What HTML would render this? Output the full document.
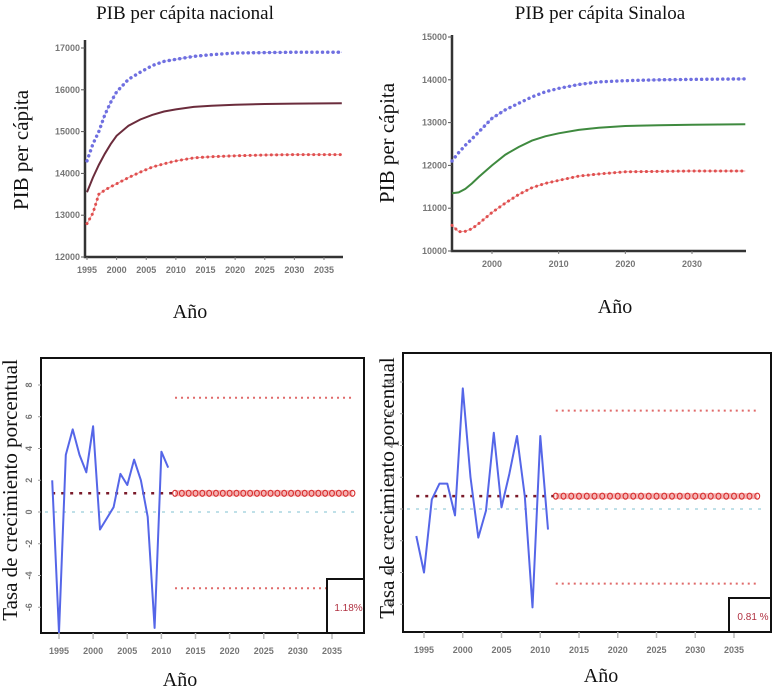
<!DOCTYPE html>
<html><head><meta charset="utf-8">
<style>
html,body{margin:0;padding:0;background:#fff;}
svg{display:block;}
.ttl{font-family:"Liberation Serif",serif;fill:#111;}
.tk{font-family:"Liberation Sans",sans-serif;fill:#777;font-size:9px;font-weight:bold;}
</style></head>
<body>
<svg id="c" width="778" height="690" viewBox="0 0 778 690" xmlns="http://www.w3.org/2000/svg">
<text class="ttl" x="185" y="19" font-size="19" text-anchor="middle">PIB per cápita nacional</text>
<text class="ttl" x="600" y="19" font-size="19" text-anchor="middle">PIB per cápita Sinaloa</text>
<text class="ttl" x="28" y="150" font-size="21" text-anchor="middle" transform="rotate(-90 28 150)">PIB per cápita</text>
<text class="ttl" x="394" y="143" font-size="21" text-anchor="middle" transform="rotate(-90 394 143)">PIB per cápita</text>
<text class="ttl" x="190" y="318" font-size="20" text-anchor="middle">Año</text>
<text class="ttl" x="615" y="313" font-size="20" text-anchor="middle">Año</text>
<text class="ttl" x="17" y="490" font-size="21" text-anchor="middle" transform="rotate(-90 17 490)">Tasa de crecimiento porcentual</text>
<text class="ttl" x="394" y="488" font-size="21" text-anchor="middle" transform="rotate(-90 394 488)">Tasa de crecimiento porcentual</text>
<text class="ttl" x="180" y="686" font-size="20" text-anchor="middle">Año</text>
<text class="ttl" x="601" y="682" font-size="20" text-anchor="middle">Año</text>
</svg>
<script>
const NS="http://www.w3.org/2000/svg";
const svg=document.getElementById('c');
// ---- Data: PIB per cápita nacional ----
const natYears=[1995,1996,1997,1998,1999,2000,2002,2004,2006,2008,2010,2013,2016,2020,2025,2030,2038];
const natMid=[13550,13900,14200,14470,14700,14900,15140,15290,15400,15480,15530,15590,15620,15640,15660,15670,15680];
const natUp=[14300,14700,15000,15400,15700,15950,16250,16420,16580,16680,16730,16800,16840,16880,16890,16900,16900];
const natLow=[12800,13050,13500,13600,13680,13750,13900,14030,14150,14230,14300,14370,14400,14420,14440,14450,14450];
const natYTicks=[12000,13000,14000,15000,16000,17000];
const natXTicks=[1995,2000,2005,2010,2015,2020,2025,2030,2035];
// ---- Data: PIB per cápita Sinaloa ----
const sinYears=[1994,1995,1996,1997,1998,2000,2002,2004,2006,2008,2010,2013,2016,2020,2025,2030,2038];
const sinMid=[11350,11370,11450,11580,11730,12000,12250,12430,12580,12680,12750,12830,12880,12920,12940,12950,12960];
const sinUp=[12100,12300,12470,12620,12780,13100,13300,13450,13600,13720,13800,13890,13950,13980,14000,14010,14020];
const sinLow=[10600,10450,10460,10520,10640,10900,11120,11320,11480,11580,11650,11750,11800,11850,11860,11870,11870];
const sinYTicks=[10000,11000,12000,13000,14000,15000];
const sinXTicks=[2000,2010,2020,2030];
// ---- Data: growth rates ----
const grYears=[1994,1995,1996,1997,1998,1999,2000,2001,2002,2003,2004,2005,2006,2007,2008,2009,2010,2011];
const grNat=[2,-7.6,3.6,5.2,3.6,2.5,5.4,-1.1,-0.4,0.3,2.4,1.7,3.3,2,-0.3,-7.3,3.8,2.8];
const grSin=[-1.7,-4,0.6,1.6,1.6,-0.4,7.6,2,-1.8,-0.1,4.8,0.1,2.2,4.6,0.8,-6.2,4.6,-1.3];
const natStats=[1.18,7.2,-4.8]; // mean, upper, lower
const sinStats=[0.81,6.2,-4.7];
const grYTicks=[-6,-4,-2,0,2,4,6,8];
const grXTicks=[1995,2000,2005,2010,2015,2020,2025,2030,2035];
const natLabel='1.18%';
const sinLabel='0.81 %';

function mk(tag,attrs,parent){const e=document.createElementNS(NS,tag);for(const k in attrs)e.setAttribute(k,attrs[k]);(parent||svg).appendChild(e);return e;}
function lin(d0,d1,r0,r1){return v=>r0+(v-d0)*(r1-r0)/(d1-d0);}
function pathD(xs,ys,fx,fy){return xs.map((x,i)=>(i?'L':'M')+fx(x).toFixed(1)+','+fy(ys[i]).toFixed(1)).join('');}

function pibChart(name,x0,x1,y0,y1,fx,fy,years,mid,up,low,midColor,yt,xt){
  const g=mk('g',{});
  
  
  const ax=mk('path',{d:`M${x0},${y1}L${x0},${y0}L${x1},${y0}`,fill:'none',stroke:'#333','stroke-width':2.5},g);
  
  
  yt.forEach(v=>{const y=fy(v);
    mk('line',{x1:x0-4,x2:x0,y1:y,y2:y,stroke:'#555'},g);
    const t=mk('text',{x:x0-5,y:y+3,'text-anchor':'end',class:'tk'},g);t.textContent=v;
    
    });
  xt.forEach(v=>{const x=fx(v);
    mk('line',{x1:x,x2:x,y1:y0,y2:y0+3,stroke:'#777'},g);
    const t=mk('text',{x:x,y:y0+16,'text-anchor':'middle',class:'tk'},g);t.textContent=v;
    
    });
  mk('path',{d:pathD(years,up,fx,fy),fill:'none',stroke:'#b0b0f0','stroke-width':1,'stroke-dasharray':'2 3'},g);
  const pu=mk('path',{d:pathD(years,up,fx,fy),fill:'none',stroke:'#6f6fe0','stroke-width':3.4,'stroke-dasharray':'0.1 5.2','stroke-linecap':'round'},g);
  
  
  const pm=mk('path',{d:pathD(years,mid,fx,fy),fill:'none',stroke:midColor,'stroke-width':2},g);
  
  
  mk('path',{d:pathD(years,low,fx,fy),fill:'none',stroke:'#f0a0a0','stroke-width':1},g);
  const pl=mk('path',{d:pathD(years,low,fx,fy),fill:'none',stroke:'#e05050','stroke-width':3,'stroke-dasharray':'0.1 5.2','stroke-linecap':'round'},g);
  
  
}
pibChart('chart-pib-nacional',85,343,257,40,lin(1995,2035,87,324),lin(12000,17000,257,48),natYears,natMid,natUp,natLow,'#6b2c3c',natYTicks,natXTicks);
pibChart('chart-pib-sinaloa',452,746,251,35,lin(2000,2030,492,692),lin(10000,15000,251,37),sinYears,sinMid,sinUp,sinLow,'#3f8a3f',sinYTicks,sinXTicks);

function grChart(name,bx0,bx1,by0,by1,fx,fy,vals,stats,label,box){
  const g=mk('g',{});
  
  
  const cp='clip-'+name;
  const cl=mk('clipPath',{id:cp},g);mk('rect',{x:bx0,y:by0,width:bx1-bx0,height:by1-by0},cl);
  const fr=mk('rect',{x:bx0,y:by0,width:bx1-bx0,height:by1-by0,fill:'none',stroke:'#111','stroke-width':2},g);
  
  
  grYTicks.forEach(v=>{const y=fy(v);
    mk('line',{x1:bx0-3,x2:bx0,y1:y,y2:y,stroke:'#999'},g);
    const t=mk('text',{x:bx0-9,y:y,'text-anchor':'middle',class:'tk',transform:`rotate(-90 ${bx0-9} ${y})`,'font-size':'7'},g);t.textContent=v;
    
    });
  grXTicks.forEach(v=>{const x=fx(v);
    mk('line',{x1:x,x2:x,y1:by1,y2:by1+6,stroke:'#bbb','stroke-width':1.5},g);
    const t=mk('text',{x:x,y:by1+21,'text-anchor':'middle',class:'tk','font-family':'Liberation Serif','font-size':'10'},g);t.textContent=v;
    
    });
  const inner=mk('g',{'clip-path':`url(#${cp})`},g);
  const z=mk('line',{x1:bx0+4,x2:bx1-4,y1:fy(0),y2:fy(0),stroke:'#bfe0e8','stroke-width':2,'stroke-dasharray':'3 6'},inner);
  
  
  const fs=fx(2012), fe=fx(2038);
  const hm=mk('line',{x1:fx(1994),x2:fs,y1:fy(stats[0]),y2:fy(stats[0]),stroke:'#7a1a2a','stroke-width':2.5,'stroke-dasharray':'3 6'},inner);
  
  
  [1,2].forEach(i=>{const b=mk('line',{x1:fs,x2:fe,y1:fy(stats[i]),y2:fy(stats[i]),stroke:'#e06a6a','stroke-width':2,'stroke-dasharray':'2 4'},inner);
    
    });
  const fl=mk('line',{x1:fs,x2:fe,y1:fy(stats[0]),y2:fy(stats[0]),stroke:'#f4b4b4','stroke-width':6},inner);
  
  
  for(let yr=2012;yr<=2038;yr++){
    const c=mk('ellipse',{cx:fx(yr),cy:fy(stats[0]),rx:2.4,ry:3,fill:'none',stroke:'#d83030','stroke-width':1.1},inner);
    
    
  }
  const ln=mk('path',{d:pathD(grYears,vals,fx,fy),fill:'none',stroke:'#5566e8','stroke-width':2,'stroke-linejoin':'round'},inner);
  
  
  const bx=mk('rect',{x:box[0],y:box[1],width:box[2],height:box[3],fill:'#fff',stroke:'#111','stroke-width':2},g);
  
  
  const bt=mk('text',{x:box[0]+box[2]/2+3,y:box[1]+box[3]/2+5,'text-anchor':'middle','font-family':'Liberation Sans','font-size':'10','fill':'#b03040'},g);
  bt.textContent=label;
  
  
}
grChart('chart-tasa-nacional',41,364,358,633,lin(1995,2035,59,332),lin(0,8,512,385),grNat,natStats,natLabel,[327,579,37,54]);
grChart('chart-tasa-sinaloa',403,771,353,632,lin(1995,2035,424,734),lin(0,8,509,382),grSin,sinStats,sinLabel,[729,598,42,34]);
</script>
</body></html>
